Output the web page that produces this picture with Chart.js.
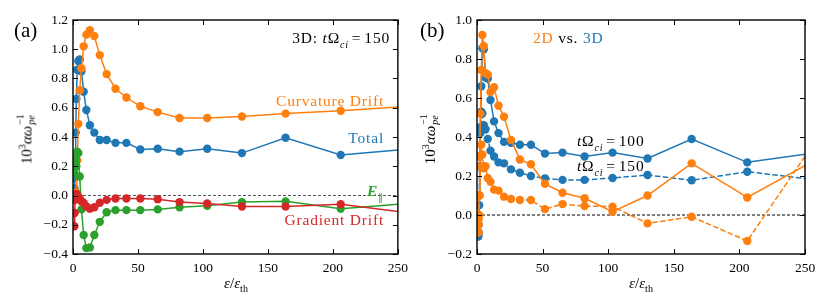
<!DOCTYPE html>
<html>
<head>
<meta charset="utf-8">
<script src="https://cdn.jsdelivr.net/npm/chart.js@4.4.1/dist/chart.umd.min.js"></script>
<style>
    body { margin: 0; background: #fff; width: 829px; height: 308px; position: relative; overflow: hidden; font-family: "Liberation Serif", serif; }
    canvas { position: absolute; top: 0; }
    .t { position: absolute; white-space: nowrap; line-height: 1; font-size: 15.5px; letter-spacing: 0.8px; transform: translateY(-50%); }
    .r { transform: translate(-100%, -50%); }
    .ylab { position: absolute; white-space: nowrap; font-size: 15px; line-height: 1; transform: translate(-50%, -50%) rotate(-90deg); }
    .xlab { position: absolute; white-space: nowrap; font-size: 15px; line-height: 1; transform: translate(-50%, -50%); }
    .ss { display: inline-block; position: relative; width: 16px; height: 10px; }
    .ss span { position: absolute; left: 1px; font-size: 10px; line-height: 1; }
    sub, sup { font-size: 10px; }
    .m { margin: 0 3px; }
</style>
</head>
<body>
<canvas id="chartA" width="414" height="308" style="left:0"></canvas>
<canvas id="chartB" width="415" height="308" style="left:414px"></canvas>

<div class="t" style="left:14px;top:30px;font-size:21px;letter-spacing:0">(a)</div>
<div class="t" style="left:420px;top:30px;font-size:21px;letter-spacing:0">(b)</div>

<div class="ylab" style="left:26px;top:137px">10<sup>3</sup><i>αω</i><span class="ss"><span style="top:-6px">−1</span><span style="top:5px"><i>pe</i></span></span></div>
<div class="ylab" style="left:429px;top:137px">10<sup>3</sup><i>αω</i><span class="ss"><span style="top:-6px">−1</span><span style="top:5px"><i>pe</i></span></span></div>
<div class="xlab" style="left:236px;top:285px"><i>ε</i>/<i>ε</i><sub>th</sub></div>
<div class="xlab" style="left:641px;top:285px"><i>ε</i>/<i>ε</i><sub>th</sub></div>

<div class="t r" style="left:390px;top:40px">3D: <i>t</i>Ω<sub><i>ci</i></sub><span class="m">=</span>150</div>
<div class="t r" style="left:384px;top:101px;color:#ff7f0e">Curvature Drift</div>
<div class="t r" style="left:384px;top:138px;color:#1f77b4">Total</div>
<div class="t r" style="left:384px;top:193px;color:#2ca02c"><b><i>E</i></b><sub>∥</sub></div>
<div class="t r" style="left:384px;top:220px;color:#d62728">Gradient Drift</div>

<div class="t" style="left:533px;top:38px"><span style="color:#ff7f0e">2D</span> vs. <span style="color:#1f77b4">3D</span></div>
<div class="t" style="left:577px;top:143px"><i>t</i>Ω<sub><i>ci</i></sub><span class="m">=</span>100</div>
<div class="t" style="left:577px;top:168px"><i>t</i>Ω<sub><i>ci</i></sub><span class="m">=</span>150</div>

<script>
// energy bins, eps / eps_th (last one sits just past the axis edge)
const eps = [1.03, 1.3, 1.64, 2.06, 2.59, 3.26, 4.1, 5.17, 6.5, 8.2, 10.3, 13.0, 16.4, 20.6, 25.9, 32.7, 41.1, 51.8, 65.2, 82.0, 103.3, 130, 163.6, 206, 259];

// panel (a): 3D, t*Omega_ci = 150
const curvature = [0.0, 0.0, 0.0, 0.0, 0.02, 0.24, 0.49, 0.72, 0.87, 1.02, 1.10, 1.13, 1.09, 0.96, 0.83, 0.73, 0.67, 0.61, 0.57, 0.53, 0.53, 0.54, 0.56, 0.58, 0.61];
const total = [0.05, 0.12, 0.2, 0.43, 0.66, 0.86, 0.92, 0.93, 0.85, 0.71, 0.585, 0.48, 0.43, 0.38, 0.38, 0.36, 0.36, 0.315, 0.32, 0.30, 0.32, 0.29, 0.395, 0.277, 0.317];
const eParallel = [0.15, 0.2, 0.23, 0.26, 0.2, 0.3, 0.29, 0.13, -0.095, -0.27, -0.36, -0.355, -0.27, -0.18, -0.115, -0.10, -0.10, -0.10, -0.095, -0.08, -0.07, -0.045, -0.04, -0.09, -0.054];
const gradient = [-0.21, -0.12, -0.03, 0.0, 0.01, 0.0, -0.01, -0.02, -0.04, -0.05, -0.075, -0.09, -0.08, -0.05, -0.03, -0.02, -0.02, -0.02, -0.025, -0.045, -0.055, -0.075, -0.075, -0.06, -0.12];

// panel (b): 2D vs 3D
const total3D_100 = [-0.1, -0.05, 0.1, 0.3, 0.45, 0.66, 0.855, 0.85, 0.705, 0.7, 0.59, 0.48, 0.42, 0.375, 0.37, 0.36, 0.36, 0.315, 0.32, 0.30, 0.32, 0.29, 0.39, 0.27, 0.32];
const total3D_150 = [-0.11, -0.09, 0.05, 0.25, 0.42, 0.53, 0.52, 0.46, 0.44, 0.39, 0.33, 0.30, 0.27, 0.265, 0.234, 0.217, 0.20, 0.188, 0.18, 0.18, 0.19, 0.205, 0.178, 0.222, 0.18];
const total2D_100 = [-0.09, -0.02, 0.1, 0.3, 0.52, 0.744, 0.923, 0.867, 0.727, 0.72, 0.63, 0.655, 0.56, 0.504, 0.385, 0.285, 0.26, 0.16, 0.114, 0.086, 0.017, 0.10, 0.265, 0.09, 0.287];
const total2D_150 = [-0.09, -0.05, 0.0, 0.1, 0.25, 0.36, 0.31, 0.24, 0.25, 0.19, 0.17, 0.13, 0.125, 0.094, 0.082, 0.077, 0.077, 0.03, 0.056, 0.046, 0.043, -0.043, -0.009, -0.133, 0.39];

const xTicks = [0, 50, 100, 150, 200, 250];

const BLUE = '#1f77b4', ORANGE = '#ff7f0e', GREEN = '#2ca02c', RED = '#d62728';

function pts(vals) {
    return eps.map((e, i) => ({ x: e, y: vals[i] }));
}

function series(vals, color, dash) {
    return {
        data: pts(vals),
        borderColor: color,
        backgroundColor: color,
        borderWidth: 1.5,
        borderDash: dash || [],
        pointRadius: 4.2,
        pointBorderWidth: 0,
        pointBackgroundColor: color,
        tension: 0
    };
}

function zeroLine(color) {
    return {
        data: [{ x: 0, y: 0 }, { x: 250, y: 0 }],
        borderColor: color,
        borderWidth: 1,
        borderDash: [3, 2],
        pointRadius: 0
    };
}

// inward ticks on all four sides + black frame
const frame = {
    id: 'frame',
    afterDraw(chart) {
        const { ctx, chartArea: a, scales: { x, y } } = chart;
        ctx.save();
        ctx.strokeStyle = '#000';
        ctx.lineWidth = 1;
        ctx.beginPath();
        x.ticks.forEach(t => {
            const px = Math.round(x.getPixelForValue(t.value)) + 0.5;
            ctx.moveTo(px, a.bottom); ctx.lineTo(px, a.bottom - 5);
            ctx.moveTo(px, a.top); ctx.lineTo(px, a.top + 5);
        });
        y.ticks.forEach(t => {
            const py = Math.round(y.getPixelForValue(t.value)) + 0.5;
            ctx.moveTo(a.left, py); ctx.lineTo(a.left + 5, py);
            ctx.moveTo(a.right, py); ctx.lineTo(a.right - 5, py);
        });
        ctx.stroke();
        ctx.lineWidth = 1.4;
        ctx.strokeRect(a.left, a.top, a.right - a.left, a.bottom - a.top);
        ctx.restore();
    }
};

function fmtY(v) {
    if (Math.abs(v) < 1e-9) return '0.0';
    return v.toFixed(1).replace('-', '−');
}

function makeChart(id, datasets, yMin, yMax, leftW, padRight) {
    return new Chart(document.getElementById(id), {
        type: 'line',
        data: { datasets: datasets },
        options: {
            responsive: false,
            animation: false,
            devicePixelRatio: 1,
            layout: { padding: { left: 0, top: 20, right: padRight, bottom: 0 } },
            plugins: { legend: { display: false }, tooltip: { enabled: false } },
            scales: {
                x: {
                    type: 'linear', min: 0, max: 250,
                    afterBuildTicks: s => { s.ticks = xTicks.map(v => ({ value: v })); },
                    afterFit: s => { s.height = 54; },
                    grid: { display: false, drawTicks: false },
                    border: { display: false },
                    ticks: { color: '#000', padding: 6, maxRotation: 0, font: { family: 'Liberation Serif', size: 13.5 } }
                },
                y: {
                    type: 'linear', min: yMin, max: yMax,
                    afterFit: s => { s.width = leftW; },
                    grid: { display: false, drawTicks: false },
                    border: { display: false },
                    ticks: { color: '#000', stepSize: 0.2, padding: 5, callback: fmtY, font: { family: 'Liberation Serif', size: 13.5 } }
                }
            }
        },
        plugins: [frame]
    });
}

makeChart('chartA', [
    series(gradient, RED),
    series(eParallel, GREEN),
    series(curvature, ORANGE),
    series(total, BLUE),
    zeroLine('#555')
], -0.4, 1.2, 73, 14);

makeChart('chartB', [
    series(total2D_100, ORANGE),
    series(total2D_150, ORANGE, [5.5, 2.4]),
    series(total3D_100, BLUE),
    series(total3D_150, BLUE, [5.5, 2.4]),
    zeroLine('#000')
], -0.2, 1.0, 63, 24);
</script>
</body>
</html>
